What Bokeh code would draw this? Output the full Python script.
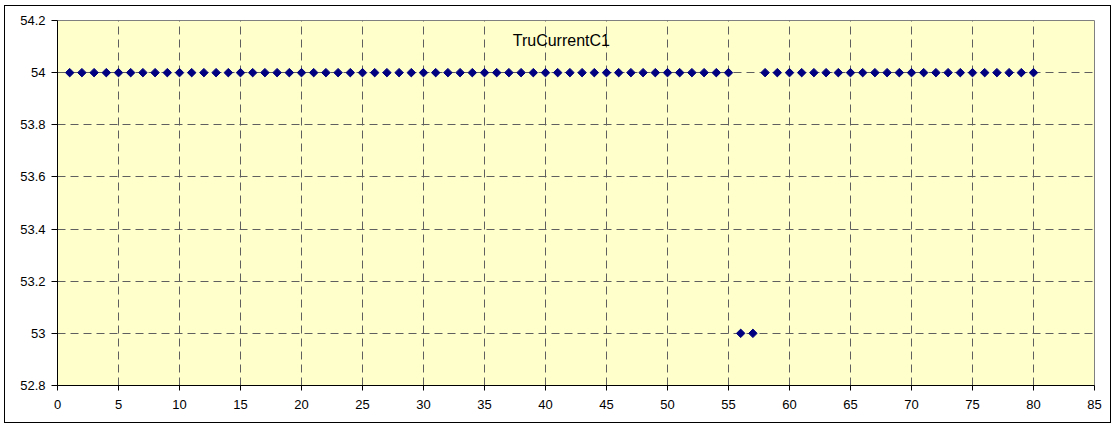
import math
from bokeh.plotting import figure
from bokeh.models import FixedTicker, Label, Range1d
from bokeh.embed import file_html
from bokeh.resources import INLINE

# ---- data ----
x_values = [1, 2, 3, 4, 5, 6, 7, 8, 9, 10, 11, 12, 13, 14, 15, 16, 17, 18, 19, 20,
            21, 22, 23, 24, 25, 26, 27, 28, 29, 30, 31, 32, 33, 34, 35, 36, 37, 38, 39, 40,
            41, 42, 43, 44, 45, 46, 47, 48, 49, 50, 51, 52, 53, 54, 55, 56, 57, 58, 59, 60,
            61, 62, 63, 64, 65, 66, 67, 68, 69, 70, 71, 72, 73, 74, 75, 76, 77, 78, 79, 80]
y_values = [54, 54, 54, 54, 54, 54, 54, 54, 54, 54, 54, 54, 54, 54, 54, 54, 54, 54, 54, 54,
            54, 54, 54, 54, 54, 54, 54, 54, 54, 54, 54, 54, 54, 54, 54, 54, 54, 54, 54, 54,
            54, 54, 54, 54, 54, 54, 54, 54, 54, 54, 54, 54, 54, 54, 54, 53, 53, 54, 54, 54,
            54, 54, 54, 54, 54, 54, 54, 54, 54, 54, 54, 54, 54, 54, 54, 54, 54, 54, 54, 54]
x_ticks = [0, 5, 10, 15, 20, 25, 30, 35, 40, 45, 50, 55, 60, 65, 70, 75, 80, 85]
y_ticks = [52.8, 53.0, 53.2, 53.4, 53.6, 53.8, 54.0, 54.2]
y_tick_labels = ["52.8", "53", "53.2", "53.4", "53.6", "53.8", "54", "54.2"]
series_name = "TruCurrentC1"

FONT = "Liberation Sans"

p = figure(width=1107, height=418, output_backend="svg", toolbar_location=None,
           x_range=Range1d(0, 85), y_range=Range1d(52.8, 54.2),
           min_border_left=52, min_border_right=18, min_border_top=14, min_border_bottom=39,
           background_fill_color="#FFFFCC", border_fill_color="white",
           outline_line_color="#808080", outline_line_width=1)
p.margin = (5, 0, 0, 4)
p.styles = {"border": "1px solid black", "box-sizing": "border-box"}

p.xaxis.ticker = FixedTicker(ticks=x_ticks)
p.yaxis.ticker = FixedTicker(ticks=y_ticks)
p.yaxis.major_label_overrides = {t: l for t, l in zip(y_ticks, y_tick_labels)}

for ax in (p.xaxis[0], p.yaxis[0]):
    ax.axis_line_color = "black"
    ax.axis_line_width = 1
    ax.major_tick_line_color = "black"
    ax.minor_tick_line_color = None
    ax.major_tick_in = 0
    ax.major_label_text_font = FONT
    ax.major_label_text_font_size = "13px"
    ax.major_label_text_color = "black"
p.xaxis.major_tick_out = 5
p.xaxis.major_label_standoff = 9
p.yaxis.major_tick_out = 6
p.yaxis.major_label_standoff = 6

for g in (p.xgrid[0], p.ygrid[0]):
    g.grid_line_color = "#5f5f5f"
    g.grid_line_dash = "8 5"
    g.grid_line_width = 1

p.scatter(x_values, y_values, marker="square", angle=math.pi / 4, size=6,
          fill_color="#000080", line_color="#000080")

p.add_layout(Label(x=41.3, y=54.123, text=series_name, text_align="center",
                   text_baseline="middle", text_font=FONT, text_font_size="16px",
                   text_color="black"))

open("out.html", "w").write(file_html(p, INLINE))
